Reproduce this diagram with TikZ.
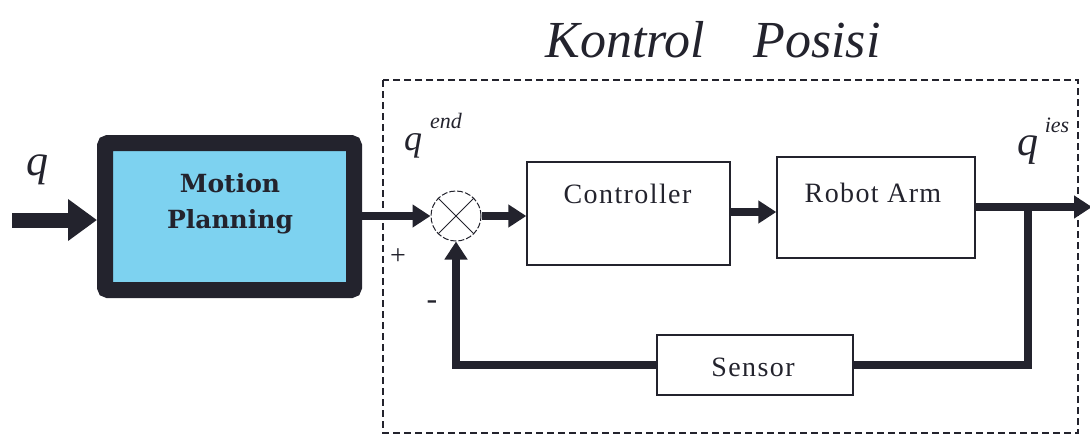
\documentclass[tikz,border=0pt]{standalone}
\usepackage{fontspec}
\setmainfont{Liberation Serif}
\newfontfamily\mpfont{DejaVu Serif}
\usetikzlibrary{arrows.meta,calc}
\definecolor{mpblue}{RGB}{125,210,240}
\definecolor{ink}{RGB}{35,35,45}
\tikzset{
  blk/.style={draw=ink, line width=1.4pt, rectangle, inner sep=0pt},
  thick arrow/.style={draw=ink, line width=8pt, -{Triangle[length=18pt,width=22pt]}},
  thick line/.style={draw=ink, line width=8pt},
  dashbox/.style={draw=ink, line width=1.1pt, dash pattern=on 7pt off 4pt},
  lbl/.style={inner sep=0pt, text=ink},
  boxtext/.style={lbl, font=\fontsize{28}{32}\selectfont\addfontfeature{LetterSpace=5}},
}
\begin{document}
\begin{tikzpicture}[x=1pt,y=-1pt]
\useasboundingbox (0,0) rectangle (1090,440);
% dashed enclosure
\draw[dashbox] (383,80) rectangle (1078,433);
\node[lbl, font=\fontsize{52}{58}\selectfont\itshape] (title) at (713,40) {Kontrol\hspace{48pt}Posisi};
% motion planning
\node[draw=ink, fill=mpblue, line width=16pt, rounded corners=3pt, minimum width=249pt, minimum height=147pt, inner sep=0pt] (mp) at (229.5,216.5) {};
\node[lbl, font=\fontsize{25}{36}\selectfont\mpfont\bfseries, align=center] (mptext) at (230,204) {Motion\\Planning};
% summing junction
\node[circle, draw=ink, line width=1pt, dash pattern=on 6pt off 2pt, minimum size=50pt, inner sep=0pt] (sum) at (456,216) {};
\draw[ink, line width=1pt] (sum.north west) -- (sum.south east) (sum.north east) -- (sum.south west);
% blocks
\node[blk, minimum width=203pt, minimum height=103pt] (ctrl) at (628.5,213.5) {};
\node[boxtext] (ctrltext) at ($(ctrl.center)+(-1,-20)$) {Controller};
\node[blk, minimum width=198pt, minimum height=101pt] (robot) at (876,207.5) {};
\node[boxtext] (robottext) at ($(robot.center)+(-3,-15)$) {Robot Arm};
\node[blk, minimum width=196pt, minimum height=60pt] (sensor) at (755,365) {};
\node[boxtext] (sensortext) at ($(sensor.center)+(-2,2)$) {Sensor};
% labels
\node[lbl, font=\fontsize{44}{46}\selectfont\itshape] (qin) at (38,170) {q};
\node[lbl, font=\fontsize{36}{38}\selectfont\itshape] (qend) at (413,146) {q};
\node[lbl, font=\fontsize{22}{24}\selectfont\itshape] (qendsup) at (446,121) {end};
\node[lbl, font=\fontsize{42}{44}\selectfont\itshape] (qies) at (1028,150) {q};
\node[lbl, font=\fontsize{22}{24}\selectfont\itshape] (qiessup) at (1057,125) {ies};
\node[lbl, font=\fontsize{28}{30}\selectfont] (plus) at (398,257) {+};
\node[lbl, font=\fontsize{32}{32}\selectfont] (minus) at (432,305) {-};
% connectors
\coordinate (in) at (12,220);
\coordinate (out) at (1092,207);
\coordinate (branch) at (1028,207);
\draw[ink, line width=15pt, -{Triangle[length=29pt,width=40pt]}] (in) -- (in -| mp.west);
\draw[thick arrow] (mp.east |- sum.west) -- (sum.west);
\draw[thick arrow] (sum.east) -- (sum.east -| ctrl.west);
\draw[thick arrow] (ctrl.east |- 0,212) -- (robot.west |- 0,212);
\draw[thick arrow] (robot.east |- out) -- (out);
\draw[thick line] (branch) |- (sensor.east);
\draw[thick arrow] (sensor.west) -| (sum.south);
\end{tikzpicture}
\end{document}
